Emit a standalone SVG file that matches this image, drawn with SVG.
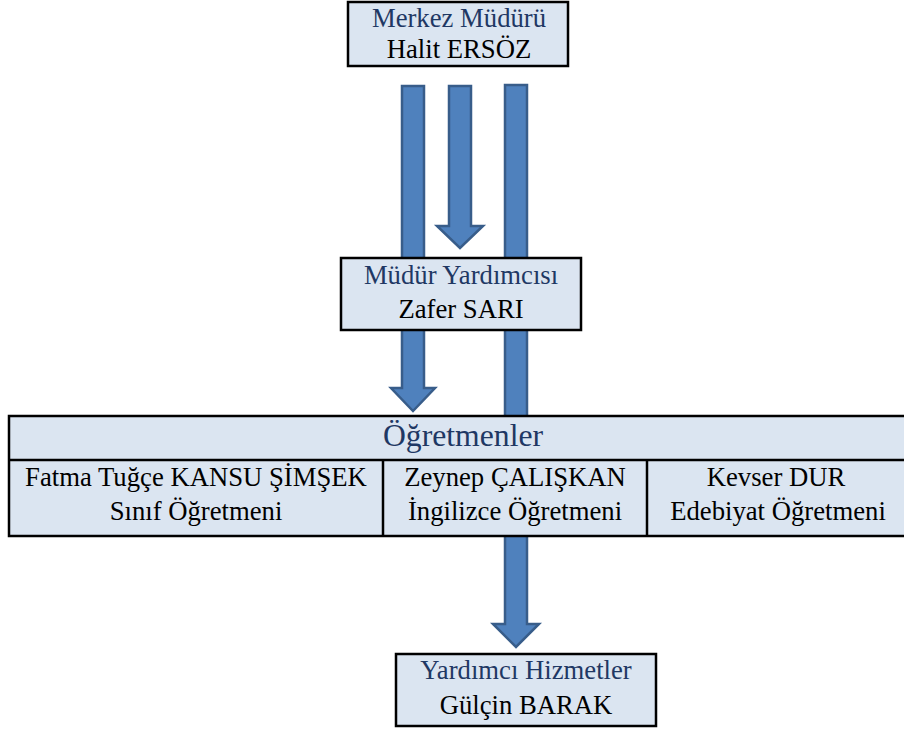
<svg xmlns="http://www.w3.org/2000/svg" width="904" height="731" viewBox="0 0 904 731">
<style>
.box{fill:#dbe5f1;stroke:#000;stroke-width:2.5}
.arrow{fill:#4f81bd;stroke:#385d8a;stroke-width:2.5;stroke-linejoin:miter}
text{text-anchor:middle}
.title{fill:#1f3864;font-size:26.7px}
.name{fill:#000;font-size:26.7px}
.big{fill:#1f3864;font-size:31.7px}
</style>
<rect width="904" height="731" fill="#fff"/>
<g id="connectors">
<path class="arrow" d="M402,86 H424 V388 H435 L413,411 L391,388 H402 Z"/>
<path class="arrow" d="M449,86 H471 V226 H483 L460,248 L437,226 H449 Z"/>
<path class="arrow" d="M505,85 H527 V624 H539 L516,647 L493,624 H505 Z"/>
</g>
<g font-family="Liberation Serif, DejaVu Serif, serif">
<g id="merkez-muduru">
<rect class="box" x="348" y="2" width="220" height="64"/>
<text class="title" x="459" y="27">Merkez Müdürü</text>
<text class="name" x="459" y="58">Halit ERSÖZ</text>
</g>
<g id="mudur-yardimcisi">
<rect class="box" x="341" y="258" width="240" height="72"/>
<text class="title" x="461" y="284">Müdür Yardımcısı</text>
<text class="name" x="461" y="318">Zafer SARI</text>
</g>
<g id="ogretmenler">
<rect class="box" x="9" y="416" width="897" height="120"/>
<line x1="9" y1="460" x2="906" y2="460" stroke="#000" stroke-width="2.5"/>
<line x1="383" y1="460" x2="383" y2="536" stroke="#000" stroke-width="2.5"/>
<line x1="647" y1="460" x2="647" y2="536" stroke="#000" stroke-width="2.5"/>
<text class="big" x="463" y="446">Öğretmenler</text>
<text class="name" x="196" y="486">Fatma Tuğçe KANSU ŞİMŞEK</text>
<text class="name" x="196" y="520">Sınıf Öğretmeni</text>
<text class="name" x="515" y="486">Zeynep ÇALIŞKAN</text>
<text class="name" x="515" y="520">İngilizce Öğretmeni</text>
<text class="name" x="776" y="486">Kevser DUR</text>
<text class="name" x="778" y="520">Edebiyat Öğretmeni</text>
</g>
<g id="yardimci-hizmetler">
<rect class="box" x="396" y="654" width="260" height="72"/>
<text class="title" x="526" y="679">Yardımcı Hizmetler</text>
<text class="name" x="526" y="714">Gülçin BARAK</text>
</g>
</g>
</svg>
